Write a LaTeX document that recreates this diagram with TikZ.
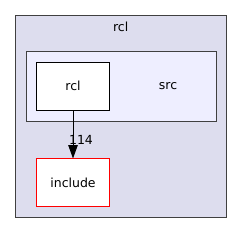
\documentclass[tikz,border=0pt]{standalone}
\usepackage{fontspec}
\setmainfont{DejaVu Sans}
\usetikzlibrary{arrows.meta,positioning}
\definecolor{outerfill}{HTML}{DDDDEE}
\definecolor{innerfill}{HTML}{EEEEFF}
\definecolor{edgegray}{HTML}{404040}
\definecolor{incred}{HTML}{FF0000}

\begin{document}
\begin{tikzpicture}[
    x=1pt, y=-1pt,
    cluster/.style={
        rectangle, draw=edgegray, line width=1pt, inner sep=0pt
    },
    dirbox/.style={
        rectangle, fill=white,
        minimum width=72.6pt, minimum height=48pt, inner sep=0pt,
        font=\fontsize{12.5}{14}\selectfont
    },
    frame/.style={line width=1pt},
    arr/.style={-{Triangle[length=13.5pt, width=9.5pt]}, line width=1pt},
    lbl/.style={font=\fontsize{12.5}{14}\selectfont, inner sep=0pt}
]
\useasboundingbox (0,0) rectangle (243,233);
% Clusters -- rcl around src
\node[cluster, fill=outerfill, minimum width=211.4pt, minimum height=201.7pt] (rclbox) at (121,116.2) {};
\node[lbl] (rcltitle) at (120.7,27) {rcl};
\node[cluster, fill=innerfill, minimum width=189.3pt, minimum height=69.3pt] (srcbox) at (121.35,86.35) {};
\node[lbl] (srctitle) at (168,86) {src};
% Directories
\node[dirbox] (rcl) at (73,86.3) {rcl};
\node[dirbox, below=48pt of rcl] (include) {include};
\draw[frame, black] (rcl.north west) rectangle (rcl.south east);
\draw[frame, incred] (include.north west) rectangle (include.south east);
% Dependency
\draw[arr] (rcl) -- (include);
\node[lbl] (count) at (81,139.5) {114};
\end{tikzpicture}
\end{document}
